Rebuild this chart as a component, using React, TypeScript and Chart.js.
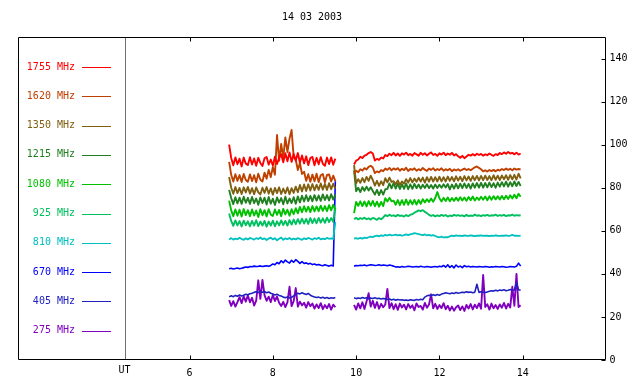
import React, { useEffect, useRef } from 'react';
import { Chart, registerables } from 'chart.js';
Chart.register(...registerables);

const TITLE = '14 03 2003';
const X_TICKS = [6, 8, 10, 12, 14];
const Y_TICKS = [0, 20, 40, 60, 80, 100, 120, 140];
const X_MIN = 1.88;
const X_MAX = 16;
const Y_MIN = 0;
const Y_MAX = 150;
const UT_LINE = 4.44;
const SEG1_START = 6.95;
const SEG2_START = 9.95;
const STEP = 0.05;

const LABELS = ['1755 MHz', '1620 MHz', '1350 MHz', '1215 MHz', '1080 MHz', '925 MHz', '810 MHz', '670 MHz', '405 MHz', '275 MHz'];
const COLORS = ['#ff0000', '#c04000', '#806010', '#208020', '#00c000', '#00c060', '#00c0c0', '#0000ff', '#2020c0', '#8000c0'];
const WIDTHS = [1.9, 1.9, 1.9, 1.9, 1.9, 1.9, 1.8, 1.6, 1.6, 1.9];

const f1755a = [100, 93.8, 90.4, 94.1, 90.9, 93.5, 89.9, 94.0, 91.2, 90.6,
  94.2, 90.8, 93.6, 90.2, 93.9, 91.5, 90.1, 93.7, 94.3, 90.7,
  93.1, 90.3, 94.4, 91.0, 93.9, 95.6, 91.8, 96.0, 92.3, 96.4,
  92.0, 95.7, 92.6, 96.1, 91.7, 95.0, 91.3, 94.6, 90.5, 93.8,
  94.3, 90.4, 93.9, 90.9, 94.2, 91.1, 90.2, 94.0, 91.0, 94.1,
  90.7, 93.5];
const f1755b = [90.8, 92.6, 93.1, 94.4, 93.8, 94.9, 95.3, 96.1, 96.6, 95.9,
  92.6, 93.4, 92.9, 94.0, 93.6, 95.2, 94.7, 95.8, 95.1, 96.2,
  95.0, 95.9, 94.8, 96.0, 95.4, 96.3, 95.1, 95.7, 94.9, 96.1,
  95.5, 94.9, 96.2, 95.3, 96.0, 95.0, 95.8, 96.4, 95.2, 95.7,
  94.8, 96.0, 95.4, 96.3, 95.1, 95.9, 95.3, 96.2, 95.0, 95.6,
  94.6, 93.9, 94.8, 93.7, 94.5, 95.3, 94.9, 95.6, 95.0, 95.8,
  95.2, 95.7, 94.9, 95.5, 95.1, 95.9, 95.3, 94.8, 95.6, 95.2,
  96.1, 95.6, 96.4, 95.8, 96.6, 95.9, 96.2, 95.5, 96.3, 95.4,
  95.9];

const f1620a = [92, 86.0, 82.9, 86.3, 83.2, 85.9, 82.7, 86.4, 83.6, 82.8,
  86.2, 83.1, 85.8, 82.5, 86.5, 83.7, 82.9, 87.0, 84.2, 88.3,
  84.9, 89.6, 86.0, 104.5, 92.5, 100.3, 94.0, 103.4, 96.5, 102.8,
  106.8, 94.2, 93.0, 88.2, 91.5, 86.4, 87.4, 83.2, 86.3, 82.8,
  86.1, 83.0, 86.5, 82.6, 85.8, 86.4, 82.5, 85.9, 86.2, 82.9,
  85.6, 83.1];
const f1620b = [86.6, 87.9, 87.2, 88.6, 88.0, 89.1, 88.5, 89.7, 90.2, 89.4,
  86.8, 87.6, 87.1, 88.2, 87.7, 88.9, 88.3, 89.2, 88.1, 89.0,
  88.4, 89.1, 87.9, 88.8, 88.2, 89.3, 87.8, 88.7, 88.3, 89.0,
  87.9, 88.6, 88.1, 89.2, 88.4, 87.8, 88.9, 88.3, 89.1, 88.0,
  88.7, 88.2, 89.0, 87.9, 88.6, 88.1, 88.8, 87.7, 88.5, 88.0,
  88.6, 87.9, 88.4, 88.9, 88.2, 88.7, 88.1, 88.8, 89.5, 89.9,
  89.2, 88.6, 87.6, 88.1, 87.5, 88.2, 87.7, 88.3, 87.6, 88.4,
  88.0, 88.7, 88.2, 88.9, 88.3, 88.8, 88.1, 88.9, 88.4, 88.7,
  88.5];

const f1350a = [85, 80.0, 77.2, 80.3, 77.5, 79.9, 77.1, 80.2, 77.8, 80.4,
  77.3, 79.8, 77.0, 80.1, 77.9, 76.9, 80.0, 77.6, 80.3, 77.2,
  79.7, 76.8, 79.9, 77.5, 80.2, 77.1, 79.6, 77.4, 80.1, 77.0,
  79.8, 77.6, 80.5, 77.9, 81.3, 78.3, 81.5, 78.5, 81.6, 78.7,
  81.7, 78.8, 81.4, 79.0, 82.0, 79.1, 81.8, 79.0, 82.1, 79.3,
  81.9, 79.6];
const f1350b = [90.5, 82.0, 84.0, 82.3, 84.5, 82.6, 85.0, 83.2, 85.6, 83.6,
  81.0, 83.2, 80.9, 83.0, 81.2, 84.4, 82.5, 84.7, 82.7, 83.0,
  81.6, 83.4, 81.3, 82.9, 81.9, 84.0, 82.4, 84.5, 82.5, 84.3,
  82.8, 84.6, 82.9, 84.7, 82.4, 84.9, 82.8, 85.0, 82.9, 84.9,
  82.9, 85.1, 83.0, 84.9, 82.9, 85.2, 83.2, 85.0, 83.0, 85.3,
  83.3, 85.1, 83.1, 85.4, 83.4, 85.2, 83.2, 85.4, 83.5, 85.5,
  83.4, 85.5, 83.5, 85.6, 83.6, 85.4, 83.5, 85.8, 83.7, 85.6,
  83.6, 85.7, 83.9, 85.8, 83.7, 85.9, 83.9, 86.0, 83.8, 86.5,
  84.3];

const f1215a = [79, 75.2, 72.4, 75.6, 72.7, 75.4, 72.5, 75.8, 73.0, 75.3,
  72.5, 75.7, 72.8, 75.0, 72.1, 75.5, 72.9, 75.4, 72.2, 75.7,
  72.6, 74.9, 72.0, 75.5, 73.1, 75.2, 72.3, 75.8, 72.7, 75.0,
  72.9, 75.6, 72.6, 76.0, 73.2, 76.3, 73.6, 76.5, 73.8, 76.2,
  73.7, 76.6, 74.0, 76.4, 73.9, 76.9, 74.3, 76.6, 74.1, 77.0,
  74.5, 76.8];
const f1215b = [88.0, 78.4, 80.0, 78.0, 80.3, 78.6, 80.5, 78.7, 80.2, 78.5,
  76.8, 79.0, 76.6, 78.9, 76.8, 79.3, 79.5, 82.0, 79.7, 82.2,
  79.6, 81.9, 79.4, 81.7, 79.5, 82.0, 79.3, 81.6, 79.5, 81.8,
  79.8, 81.5, 79.6, 81.4, 79.9, 81.6, 79.8, 81.3, 79.6, 81.5,
  79.9, 81.4, 80.0, 81.6, 80.1, 81.7, 79.2, 81.5, 79.6, 81.8,
  79.7, 81.9, 79.8, 82.0, 79.9, 81.8, 79.6, 82.0, 80.0, 82.2,
  80.1, 82.3, 80.0, 82.2, 80.2, 82.4, 80.3, 82.1, 80.0, 82.4,
  80.5, 82.6, 80.6, 82.8, 80.5, 82.6, 80.7, 82.9, 80.8, 82.7,
  80.8];

const f1080a = [74, 69.5, 66.8, 69.9, 67.0, 69.8, 66.6, 70.1, 67.3, 69.6,
  66.8, 69.9, 67.1, 69.4, 66.4, 70.0, 67.2, 69.6, 66.7, 70.0,
  67.5, 66.9, 69.9, 67.4, 69.7, 66.8, 70.2, 67.6, 69.8, 67.0,
  70.0, 67.7, 70.5, 68.1, 71.1, 68.6, 71.4, 68.9, 71.2, 68.7,
  71.5, 69.0, 71.3, 69.1, 71.7, 69.3, 71.5, 69.1, 71.9, 69.5,
  72.1, 69.9];
const f1080b = [68.2, 73.4, 71.6, 73.7, 71.5, 73.6, 71.3, 73.8, 71.7, 73.9,
  71.4, 73.5, 71.2, 73.4, 71.5, 75.1, 73.6, 75.3, 73.7, 74.0,
  72.1, 74.3, 71.9, 74.2, 72.0, 74.5, 72.1, 74.2, 72.3, 74.4,
  72.2, 74.3, 72.5, 74.7, 73.2, 74.6, 73.4, 75.0, 73.5, 75.2,
  78.0, 75.1, 73.6, 75.3, 73.8, 75.5, 73.7, 75.2, 73.9, 75.4,
  74.0, 75.6, 74.1, 75.5, 73.9, 75.7, 74.2, 75.9, 74.1, 75.5,
  74.3, 75.8, 74.4, 75.9, 74.2, 76.0, 74.4, 76.1, 74.6, 76.0,
  74.5, 76.2, 74.7, 76.3, 74.8, 76.5, 75.0, 76.7, 75.1, 77.2,
  75.8];

const f925a = [68, 64.6, 62.3, 64.8, 62.5, 64.5, 62.0, 64.7, 62.6, 64.4,
  62.1, 64.6, 62.4, 64.9, 62.2, 64.3, 62.4, 64.6, 61.9, 64.3,
  62.4, 64.7, 62.1, 64.4, 62.5, 64.8, 62.7, 64.6, 62.4, 65.0,
  62.9, 65.2, 63.1, 65.4, 63.3, 65.6, 63.4, 65.5, 63.2, 65.9,
  63.6, 65.7, 63.5, 66.0, 63.8, 65.8, 63.7, 66.1, 64.0, 65.9,
  64.2, 70.5];
const f925b = [65.4, 66.0, 65.3, 65.9, 65.5, 66.1, 65.4, 65.8, 65.2, 66.0,
  65.6, 65.1, 65.9, 65.4, 66.2, 67.3, 66.8, 67.5, 66.9, 67.2,
  66.7, 67.4, 66.9, 67.1, 66.6, 67.3, 66.8, 67.5, 67.7, 68.4,
  68.9, 69.5, 69.1, 69.6, 68.8, 68.2, 67.4, 66.9, 67.3, 66.7,
  67.2, 66.8, 67.4, 66.9, 67.3, 66.6, 67.1, 66.8, 67.4, 67.0,
  67.3, 66.9, 67.2, 66.7, 67.4, 66.8, 67.1, 66.9, 67.5, 67.0,
  67.2, 66.8, 67.3, 67.0, 67.4, 66.9, 67.2, 67.1, 67.5, 66.9,
  67.3, 67.0, 67.4, 66.8, 67.2, 67.1, 67.5, 67.0, 67.3, 67.1,
  67.2];

const f810a = [56.0, 56.6, 55.9, 56.4, 56.1, 56.8, 56.2, 55.8, 56.5, 56.0,
  56.7, 56.3, 55.9, 56.6, 56.2, 56.9, 56.1, 56.5, 55.7, 56.4,
  56.8, 56.0, 56.6, 55.6, 56.3, 56.9, 55.8, 56.5, 56.1, 56.7,
  55.9, 56.4, 56.0, 56.6, 56.2, 55.8, 56.5, 56.1, 56.7, 56.3,
  55.9, 56.6, 56.2, 56.8, 56.0, 56.4, 56.1, 56.7, 56.3, 56.5,
  56.2, 64.0];
const f810b = [56.4, 56.6, 56.3, 56.7, 56.4, 56.8, 56.6, 57.0, 57.3, 57.1,
  57.5, 57.8, 57.4, 57.9, 57.6, 58.1, 57.8, 58.2, 57.9, 58.0,
  58.2, 57.9, 58.1, 57.7, 58.0, 58.3, 58.0, 58.4, 58.6, 58.9,
  58.7, 58.5, 58.2, 58.0, 58.3, 57.9, 58.1, 57.8, 58.0, 57.6,
  57.2, 57.0, 57.3, 56.9, 57.1, 57.0, 57.4, 57.8, 57.5, 57.9,
  57.6, 57.8, 57.5, 57.9, 57.7, 57.6, 57.9, 57.7, 57.5, 57.8,
  57.7, 57.9, 57.6, 57.8, 57.7, 57.5, 57.8, 57.6, 57.9, 57.7,
  57.6, 57.8, 57.7, 57.9, 57.6, 57.8, 58.1, 57.7, 57.8, 57.6,
  57.8];

const f670a = [42.4, 42.6, 42.3, 42.5, 42.7, 42.4, 42.6, 42.9, 43.2, 43.0,
  43.4, 43.3, 43.6, 43.4, 43.5, 43.7, 43.4, 43.6, 43.8, 43.5,
  43.9, 44.6, 44.2, 45.3, 44.7, 46.1, 45.2, 46.4, 45.6, 45.0,
  46.3, 45.4, 46.6, 45.8, 44.9, 45.7, 44.8, 45.1, 44.6, 44.9,
  44.3, 44.6, 44.1, 44.4, 44.0, 43.8, 44.2, 43.9, 43.6, 44.0,
  43.7, 83.0];
const f670b = [43.6, 43.9, 43.8, 44.0, 43.9, 44.1, 43.8, 44.0, 44.2, 44.1,
  43.9, 44.0, 44.2, 43.9, 44.1, 44.0, 43.8, 44.1, 43.9, 43.6,
  43.2, 43.3, 43.1, 43.4, 43.2, 43.3, 43.5, 43.4, 43.2, 43.3,
  43.4, 43.2, 43.5, 43.3, 43.2, 43.4, 43.3, 43.1, 43.3, 43.4,
  43.2, 43.5, 43.3, 43.9, 43.1, 44.2, 43.0, 43.8, 42.8, 44.1,
  43.2, 43.6, 42.9, 43.8, 43.3, 43.5, 43.2, 43.4, 43.3, 43.2,
  43.4, 43.3, 43.2, 43.4, 43.3, 43.1, 43.3, 43.2, 43.4, 43.3,
  43.2, 43.4, 43.3, 43.1, 43.2, 43.4, 43.3, 43.2, 43.5, 45.0,
  43.6];

const f405a = [29.3, 29.8, 29.4, 30.0, 29.6, 30.2, 29.7, 30.1, 30.5, 30.3,
  30.8, 31.0, 31.4, 31.7, 31.3, 31.9, 31.5, 31.8, 31.2, 31.6,
  31.0, 30.6, 30.2, 30.5, 30.0, 29.7, 29.2, 28.9, 29.3, 28.8,
  29.1, 29.8, 30.5, 31.0, 30.7, 31.2, 30.8, 30.4, 30.9, 30.1,
  29.6, 29.3, 29.0, 29.2, 28.8, 29.1, 28.7, 29.0, 28.6, 28.9,
  28.7, 29.0];
const f405b = [28.9, 28.5, 28.8, 28.6, 29.0, 28.7, 28.9, 28.4, 28.8, 28.6,
  28.9, 28.5, 28.7, 28.3, 28.6, 28.4, 28.1, 28.3, 27.9, 28.2,
  27.8, 28.1, 27.9, 28.0, 27.7, 27.9, 27.6, 28.0, 27.8, 27.7,
  28.1, 27.9, 28.2, 28.0, 29.2, 29.8, 30.1, 29.9, 30.3, 30.0,
  30.4, 30.1, 30.6, 30.9, 31.2, 31.0, 30.8, 31.1, 30.9, 31.3,
  31.0, 31.2, 31.5, 31.3, 31.7, 31.4, 31.6, 31.2, 31.5, 35.2,
  31.4, 31.7, 31.5, 31.3, 31.6, 31.9, 32.2, 32.0, 32.4, 32.1,
  32.5, 32.3, 32.6, 32.2, 32.4, 32.7, 32.3, 32.5, 36.0, 32.6,
  32.4];

const f275a = [27.8, 25.1, 27.3, 24.8, 26.9, 29.2, 26.4, 29.6, 27.1, 30.0,
  26.8, 28.9, 25.3, 27.6, 37.0, 28.4, 37.2, 30.1, 27.5, 29.4,
  26.9, 30.2, 27.4, 29.5, 26.6, 25.1, 27.0, 24.6, 26.8, 34.0,
  25.0, 27.3, 33.4, 24.8, 27.1, 25.4, 26.6, 24.3, 26.9, 25.0,
  26.2, 23.9, 25.8, 24.1, 26.4, 23.6, 25.5, 24.0, 26.0, 23.4,
  25.7, 24.5];
const f275b = [25.6, 23.4, 26.3, 24.0, 26.8, 23.7, 27.2, 31.0, 24.8, 27.5,
  24.2, 26.9, 23.8, 26.1, 24.5, 25.8, 33.0, 24.1, 26.4, 23.6,
  25.9, 23.3, 26.2, 24.4, 25.7, 23.5, 26.0, 24.2, 25.4, 23.1,
  26.3, 24.6, 25.1, 23.4, 26.5, 24.3, 25.8, 30.5, 24.0, 26.1,
  23.7, 25.5, 24.1, 26.4, 23.6, 25.2, 23.0, 24.8, 22.9, 24.5,
  25.3, 23.2, 24.9, 22.8, 25.6, 23.9, 26.0, 23.5, 25.7, 24.1,
  26.3, 23.8, 39.5, 24.6, 25.9, 23.4, 26.2, 24.0, 25.5, 23.7,
  25.8, 24.3, 26.5, 23.9, 26.1, 24.4, 34.0, 25.2, 40.0, 24.6,
  25.4];

const SEG1 = [f1755a, f1620a, f1350a, f1215a, f1080a, f925a, f810a, f670a, f405a, f275a];
const SEG2 = [f1755b, f1620b, f1350b, f1215b, f1080b, f925b, f810b, f670b, f405b, f275b];

const FONT = '10px "DejaVu Sans Mono", monospace';

function buildPoints(a: number[], b: number[]) {
  const pts: { x: number; y: number | null }[] = [];
  a.forEach((v, i) => pts.push({ x: SEG1_START + i * STEP, y: v }));
  pts.push({ x: (SEG1_START + a.length * STEP + SEG2_START) / 2, y: null });
  b.forEach((v, i) => pts.push({ x: SEG2_START + i * STEP, y: v }));
  return pts;
}

const decorPlugin = {
  id: 'decor',
  afterDatasetsDraw(chart: any) {
    const { ctx, chartArea: a, scales } = chart;
    const xs = scales.x;
    const ys = scales.y;
    const L = Math.round(a.left) + 0.5;
    const R = Math.round(a.right) - 0.5;
    const T = Math.round(a.top) + 0.5;
    const B = Math.round(a.bottom) - 0.5;
    ctx.save();
    ctx.font = FONT;
    ctx.fillStyle = '#000';
    ctx.textAlign = 'center';
    ctx.textBaseline = 'middle';
    ctx.fillText(TITLE, (a.left + a.right) / 2, 17);
    const ux = Math.round(xs.getPixelForValue(UT_LINE)) + 0.5;
    ctx.strokeStyle = '#707070';
    ctx.lineWidth = 1;
    ctx.beginPath();
    ctx.moveTo(ux, T);
    ctx.lineTo(ux, B);
    ctx.stroke();
    ctx.strokeStyle = '#000';
    ctx.beginPath();
    ctx.rect(L, T, R - L, B - T);
    ctx.stroke();
    ctx.beginPath();
    X_TICKS.forEach((t) => {
      const px = Math.round(xs.getPixelForValue(t)) + 0.5;
      ctx.moveTo(px, B);
      ctx.lineTo(px, B - 4);
      ctx.moveTo(px, T);
      ctx.lineTo(px, T + 4);
    });
    Y_TICKS.forEach((v) => {
      const py = Math.round(ys.getPixelForValue(v)) + 0.5;
      ctx.moveTo(R, py);
      ctx.lineTo(R - 4, py);
    });
    ctx.stroke();
    ctx.fillStyle = '#000';
    ctx.textAlign = 'center';
    X_TICKS.forEach((t) => {
      ctx.fillText(String(t), xs.getPixelForValue(t), B + 14);
    });
    ctx.fillText('UT', ux - 1, B + 11);
    ctx.textAlign = 'left';
    Y_TICKS.forEach((v) => {
      ctx.fillText(String(v), R + 4, ys.getPixelForValue(v));
    });
    chart.data.datasets.forEach((ds: any, i: number) => {
      const y = 67 + i * 29.3;
      ctx.fillStyle = ds.borderColor;
      ctx.textAlign = 'right';
      ctx.fillText(ds.label, 75, y);
      ctx.strokeStyle = ds.borderColor;
      ctx.lineWidth = 1;
      ctx.beginPath();
      ctx.moveTo(82, Math.round(y) + 0.5);
      ctx.lineTo(111, Math.round(y) + 0.5);
      ctx.stroke();
    });
    ctx.restore();
  },
};

export default function App() {
  const ref = useRef<HTMLCanvasElement>(null);
  useEffect(() => {
    if (!ref.current) return;
    const chart = new Chart(ref.current, {
      type: 'line',
      data: {
        datasets: LABELS.map((label, i) => ({
          label,
          data: buildPoints(SEG1[i], SEG2[i]),
          borderColor: COLORS[i],
          backgroundColor: COLORS[i],
          borderWidth: WIDTHS[i],
          pointRadius: 0,
          tension: 0,
          spanGaps: false,
          borderJoinStyle: 'round' as const,
        })),
      },
      options: {
        responsive: false,
        animation: false,
        devicePixelRatio: 1,
        layout: { padding: { left: 18, right: 34, top: 37, bottom: 24 } },
        scales: {
          x: { type: 'linear', min: X_MIN, max: X_MAX, display: false },
          y: { type: 'linear', min: Y_MIN, max: Y_MAX, display: false },
        },
        plugins: {
          legend: { display: false },
          title: { display: false },
          tooltip: { enabled: false },
        },
        events: [],
      },
      plugins: [decorPlugin],
    });
    return () => chart.destroy();
  }, []);
  return (
    <div style={{ position: 'absolute', left: 0, top: 0, width: 640, height: 384, background: '#fff' }}>
      <canvas ref={ref} width={640} height={384} style={{ display: 'block', width: 640, height: 384 }} />
    </div>
  );
}
